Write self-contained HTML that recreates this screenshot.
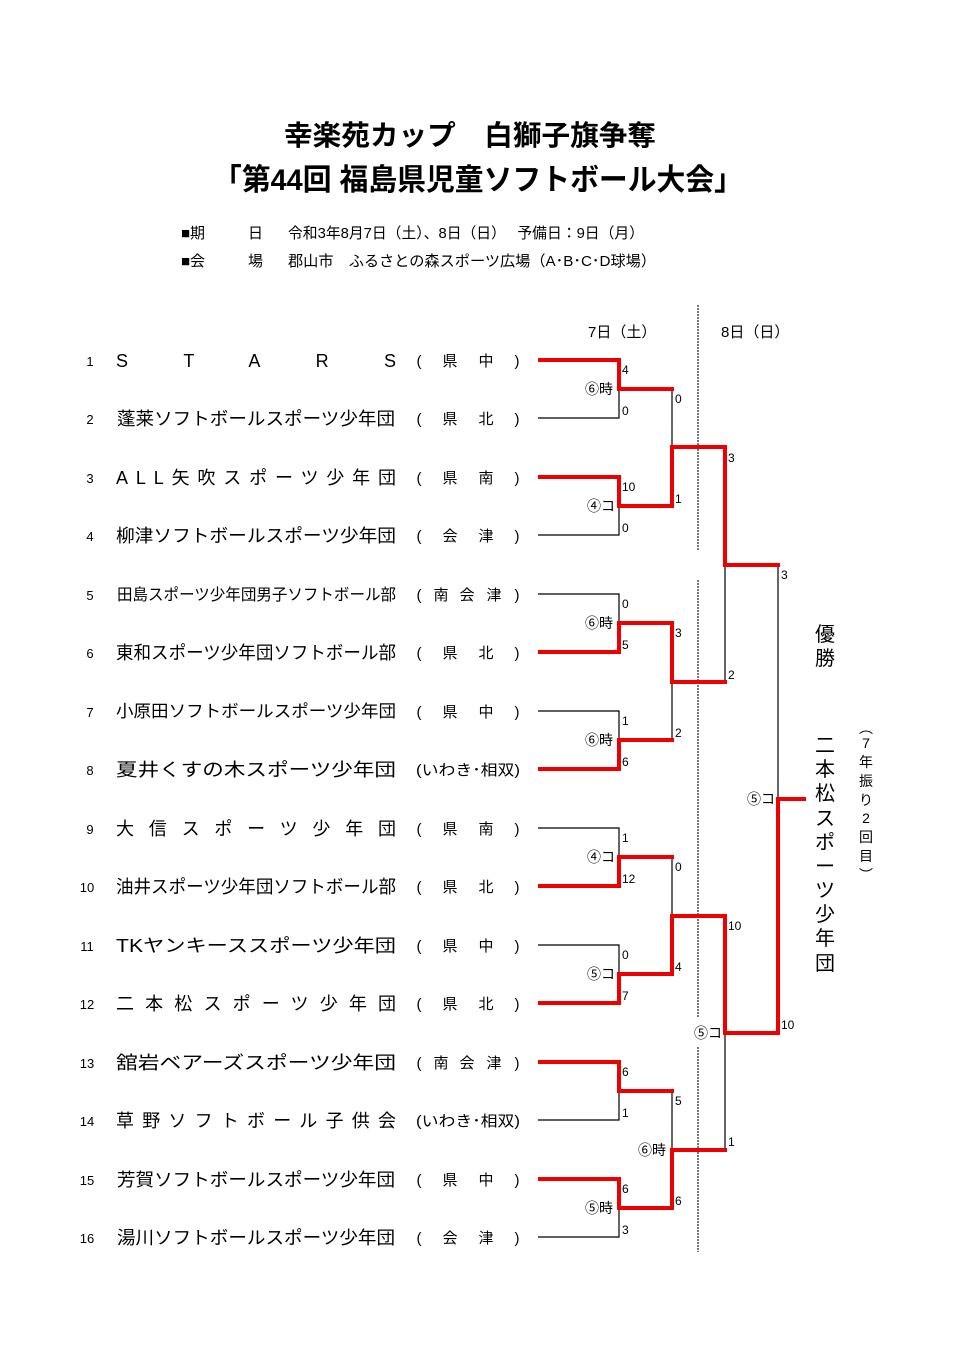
<!DOCTYPE html>
<html><head><meta charset="utf-8"><style>
html,body{margin:0;padding:0;background:#fff}
svg{display:block}
text{font-family:"Liberation Sans","Noto Sans CJK JP",sans-serif;fill:#000}
</style></head><body>
<svg width="960" height="1358" viewBox="0 0 960 1358" xmlns="http://www.w3.org/2000/svg">
<text x="470" y="145" font-size="28" font-weight="bold" text-anchor="middle" textLength="372" lengthAdjust="spacingAndGlyphs">幸楽苑カップ　白獅子旗争奪</text>
<text x="478" y="190" font-size="30" font-weight="bold" text-anchor="middle" textLength="530" lengthAdjust="spacingAndGlyphs">「第44回 福島県児童ソフトボール大会」</text>
<text x="181" y="238" font-size="15">■期</text><text x="248" y="238" font-size="15">日</text>
<text x="288" y="238" font-size="15" textLength="356" lengthAdjust="spacingAndGlyphs">令和3年8月7日（土）、8日（日）　 予備日：9日（月）</text>
<text x="181" y="266" font-size="15">■会</text><text x="248" y="266" font-size="15">場</text>
<text x="288" y="266" font-size="15" textLength="368" lengthAdjust="spacingAndGlyphs">郡山市　ふるさとの森スポーツ広場（A･B･C･D球場）</text>

<text x="588" y="337" font-size="15">7日（土）</text>
<text x="721" y="337" font-size="15">8日（日）</text>

<g font-size="18">
<text x="90" y="366" font-size="13" text-anchor="middle">1</text><text x="116" y="367" textLength="280" lengthAdjust="spacing">STARS</text>
<text x="90" y="424" font-size="13" text-anchor="middle">2</text><text x="117" y="425" textLength="278" lengthAdjust="spacingAndGlyphs">蓬莱ソフトボールスポーツ少年団</text>
<text x="90" y="483" font-size="13" text-anchor="middle">3</text><text x="116" y="484" textLength="280" lengthAdjust="spacing">ALL矢吹スポーツ少年団</text>
<text x="90" y="541" font-size="13" text-anchor="middle">4</text><text x="116" y="542" textLength="280" lengthAdjust="spacingAndGlyphs">柳津ソフトボールスポーツ少年団</text>
<text x="90" y="600" font-size="13" text-anchor="middle">5</text><text x="117" y="600" font-size="16" textLength="279" lengthAdjust="spacingAndGlyphs">田島スポーツ少年団男子ソフトボール部</text>
<text x="90" y="658" font-size="13" text-anchor="middle">6</text><text x="116" y="659" textLength="280" lengthAdjust="spacingAndGlyphs">東和スポーツ少年団ソフトボール部</text>
<text x="90" y="717" font-size="13" text-anchor="middle">7</text><text x="116" y="717" font-size="17" textLength="280" lengthAdjust="spacingAndGlyphs">小原田ソフトボールスポーツ少年団</text>
<text x="90" y="775" font-size="13" text-anchor="middle">8</text><text x="116" y="776" textLength="280" lengthAdjust="spacingAndGlyphs">夏井くすの木スポーツ少年団</text>
<text x="90" y="834" font-size="13" text-anchor="middle">9</text><text x="116" y="835" textLength="280" lengthAdjust="spacing">大信スポーツ少年団</text>
<text x="87" y="892" font-size="13" text-anchor="middle">10</text><text x="116" y="893" textLength="280" lengthAdjust="spacingAndGlyphs">油井スポーツ少年団ソフトボール部</text>
<text x="87" y="951" font-size="13" text-anchor="middle">11</text><text x="116" y="952" textLength="280" lengthAdjust="spacingAndGlyphs">TKヤンキーススポーツ少年団</text>
<text x="87" y="1009" font-size="13" text-anchor="middle">12</text><text x="116" y="1010" textLength="280" lengthAdjust="spacing">二本松スポーツ少年団</text>
<text x="87" y="1068" font-size="13" text-anchor="middle">13</text><text x="116" y="1069" textLength="280" lengthAdjust="spacingAndGlyphs">舘岩ベアーズスポーツ少年団</text>
<text x="87" y="1126" font-size="13" text-anchor="middle">14</text><text x="116" y="1127" textLength="280" lengthAdjust="spacing">草野ソフトボール子供会</text>
<text x="87" y="1185" font-size="13" text-anchor="middle">15</text><text x="117" y="1186" textLength="278" lengthAdjust="spacingAndGlyphs">芳賀ソフトボールスポーツ少年団</text>
<text x="87" y="1243" font-size="13" text-anchor="middle">16</text><text x="117" y="1244" textLength="278" lengthAdjust="spacingAndGlyphs">湯川ソフトボールスポーツ少年団</text>
</g>

<g font-size="15">
<g text-anchor="middle">
<text x="419" y="366">(</text><text x="450" y="366">県</text><text x="486" y="366">中</text><text x="517" y="366">)</text>
<text x="419" y="424">(</text><text x="450" y="424">県</text><text x="486" y="424">北</text><text x="517" y="424">)</text>
<text x="419" y="483">(</text><text x="450" y="483">県</text><text x="486" y="483">南</text><text x="517" y="483">)</text>
<text x="419" y="541">(</text><text x="450" y="541">会</text><text x="486" y="541">津</text><text x="517" y="541">)</text>
<text x="419" y="600">(</text><text x="441" y="600">南</text><text x="467" y="600">会</text><text x="494" y="600">津</text><text x="517" y="600">)</text>
<text x="419" y="658">(</text><text x="450" y="658">県</text><text x="486" y="658">北</text><text x="517" y="658">)</text>
<text x="419" y="717">(</text><text x="450" y="717">県</text><text x="486" y="717">中</text><text x="517" y="717">)</text>
<text x="468" y="775" textLength="104" lengthAdjust="spacingAndGlyphs">(いわき･相双)</text>
<text x="419" y="834">(</text><text x="450" y="834">県</text><text x="486" y="834">南</text><text x="517" y="834">)</text>
<text x="419" y="892">(</text><text x="450" y="892">県</text><text x="486" y="892">北</text><text x="517" y="892">)</text>
<text x="419" y="951">(</text><text x="450" y="951">県</text><text x="486" y="951">中</text><text x="517" y="951">)</text>
<text x="419" y="1009">(</text><text x="450" y="1009">県</text><text x="486" y="1009">北</text><text x="517" y="1009">)</text>
<text x="419" y="1068">(</text><text x="441" y="1068">南</text><text x="467" y="1068">会</text><text x="494" y="1068">津</text><text x="517" y="1068">)</text>
<text x="468" y="1126" textLength="104" lengthAdjust="spacingAndGlyphs">(いわき･相双)</text>
<text x="419" y="1185">(</text><text x="450" y="1185">県</text><text x="486" y="1185">中</text><text x="517" y="1185">)</text>
<text x="419" y="1243">(</text><text x="450" y="1243">会</text><text x="486" y="1243">津</text><text x="517" y="1243">)</text>
</g>
</g>

<g stroke="#777" stroke-width="2" stroke-dasharray="2,1">
<line x1="698" y1="305" x2="698" y2="550"/>
<line x1="698" y1="580" x2="698" y2="1017"/>
<line x1="698" y1="1047" x2="698" y2="1252"/>
</g>

<g stroke="#000" stroke-width="1.2" fill="none">
<path d="M538 418H619V389"/>
<path d="M538 535H619V506"/>
<path d="M538 594H619V623"/>
<path d="M538 711H619V740"/>
<path d="M538 828H619V857"/>
<path d="M538 945H619V974"/>
<path d="M538 1120H619V1091"/>
<path d="M538 1237H619V1208"/>
<path d="M672 389V447"/>
<path d="M672 682V740"/>
<path d="M672 857V916"/>
<path d="M672 1091V1150"/>
<path d="M725 565V682"/>
<path d="M725 1033V1150"/>
<path d="M778 565V799"/>
</g>

<g stroke="#e00" stroke-width="4" fill="none" stroke-linejoin="miter" stroke-linecap="square">
<path d="M540 360H619V389H672"/>
<path d="M540 477H619V506H672V447H725V565H778"/>
<path d="M540 652H619V623H672V682H725"/>
<path d="M540 769H619V740H672"/>
<path d="M540 886H619V857H672"/>
<path d="M540 1003H619V974H672V916H725V1033H778V799H804"/>
<path d="M540 1062H619V1091H672"/>
<path d="M540 1179H619V1208H672V1150H725"/>
</g>

<g font-size="12">
<text x="622" y="374">4</text><text x="622" y="415">0</text>
<text x="622" y="491">10</text><text x="622" y="532">0</text>
<text x="622" y="608">0</text><text x="622" y="649">5</text>
<text x="622" y="725">1</text><text x="622" y="766">6</text>
<text x="622" y="842">1</text><text x="622" y="883">12</text>
<text x="622" y="959">0</text><text x="622" y="1000">7</text>
<text x="622" y="1076">6</text><text x="622" y="1117">1</text>
<text x="622" y="1193">6</text><text x="622" y="1234">3</text>
<text x="675" y="403">0</text><text x="675" y="503">1</text>
<text x="675" y="637">3</text><text x="675" y="737">2</text>
<text x="675" y="871">0</text><text x="675" y="971">4</text>
<text x="675" y="1105">5</text><text x="675" y="1205">6</text>
<text x="728" y="462">3</text><text x="728" y="679">2</text>
<text x="728" y="930">10</text><text x="728" y="1146">1</text>
<text x="781" y="579">3</text><text x="781" y="1029">10</text>
</g>
<g font-size="14">
<text x="585" y="394">⑥時</text>
<text x="587" y="511">④コ</text>
<text x="585" y="628">⑥時</text>
<text x="585" y="745">⑥時</text>
<text x="587" y="862">④コ</text>
<text x="587" y="979">⑤コ</text>
<text x="638" y="1155">⑥時</text>
<text x="585" y="1213">⑤時</text>
<text x="694" y="1038">⑤コ</text>
<text x="747" y="804">⑤コ</text>
</g>

<g font-size="20" text-anchor="middle">
<text x="825" y="641">優</text><text x="825" y="665">勝</text>
<text x="825" y="752">二</text><text x="825" y="776">本</text><text x="825" y="800">松</text>
<text x="825" y="825">ス</text><text x="825" y="849">ポ</text><text x="825" y="873">ー</text>
<text x="825" y="897">ツ</text><text x="825" y="921">少</text><text x="825" y="945">年</text><text x="825" y="970">団</text>
</g>
<g font-size="14" text-anchor="middle">
<text x="866" y="733">︵</text><text x="866" y="748">7</text><text x="866" y="767">年</text>
<text x="866" y="786">振</text><text x="866" y="805">り</text><text x="866" y="823">2</text>
<text x="866" y="842">回</text><text x="866" y="861">目</text><text x="866" y="880">︶</text>
</g>
</svg>
</body></html>
